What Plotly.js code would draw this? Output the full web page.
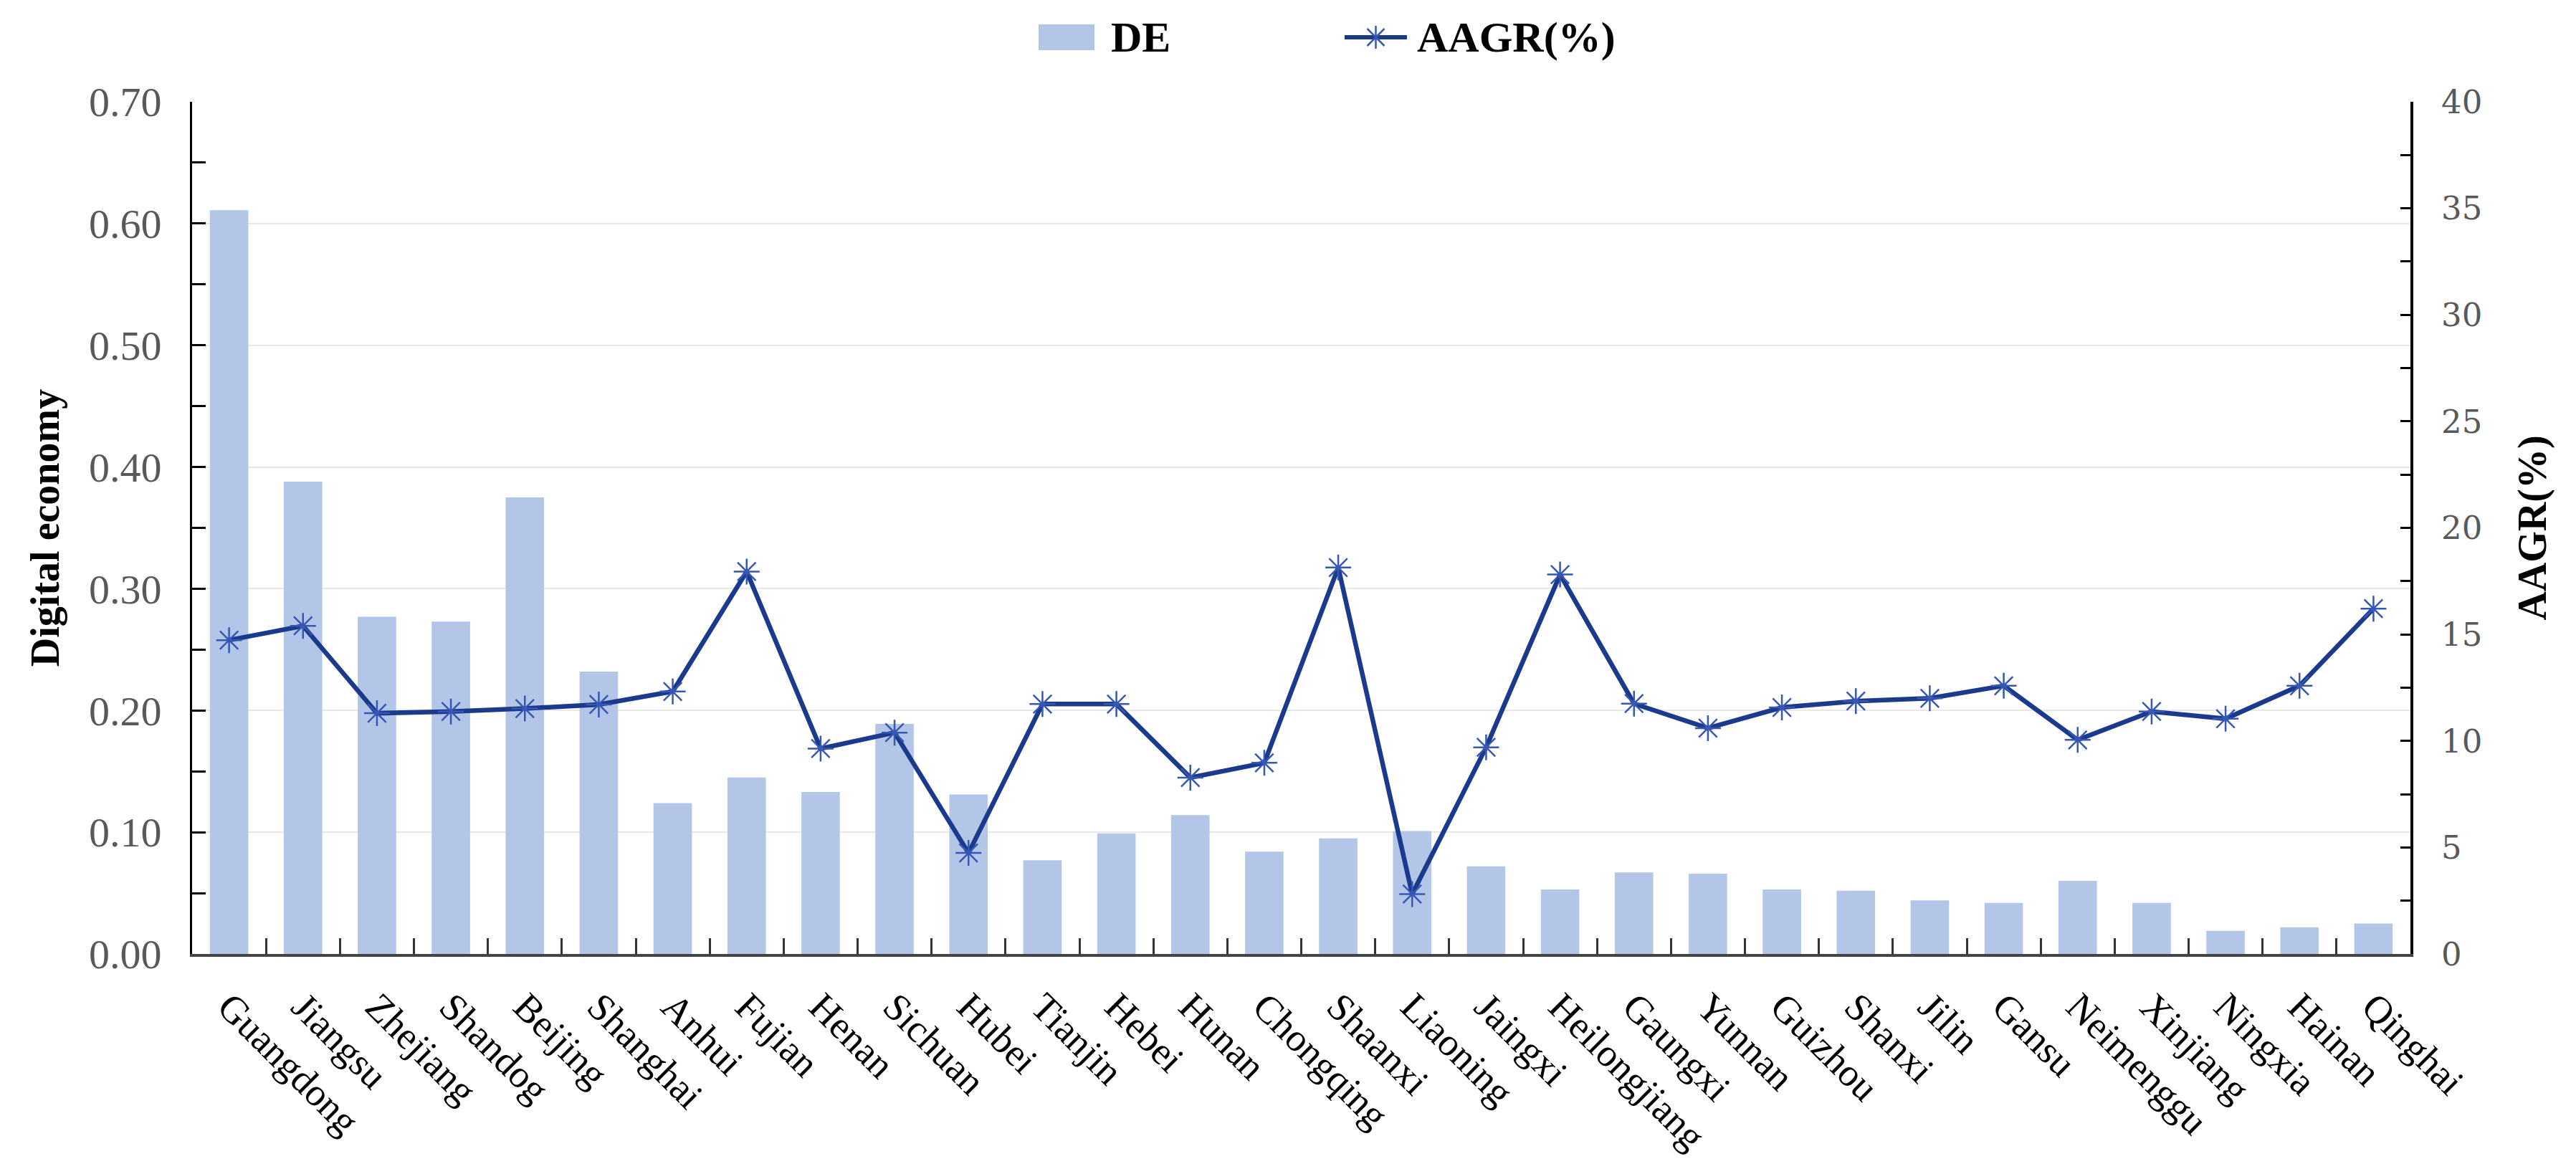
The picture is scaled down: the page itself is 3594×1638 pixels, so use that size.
<!DOCTYPE html>
<html>
<head>
<meta charset="utf-8">
<script src="https://cdn.plot.ly/plotly-3.0.1.min.js"></script>
<style>
  html, body { margin: 0; padding: 0; background: #fff; }
  #chart { width: 3594px; height: 1638px; }
</style>
</head>
<body>
<div id="chart"></div>
<script>
// provinces, in the order of the chart
const provinces = [
    'Guangdong', 'Jiangsu', 'Zhejiang', 'Shandog', 'Beijing', 'Shanghai',
    'Anhui', 'Fujian', 'Henan', 'Sichuan', 'Hubei', 'Tianjin', 'Hebei',
    'Hunan', 'Chongqing', 'Shaanxi', 'Liaoning', 'Jaingxi', 'Heilongjiang',
    'Gaungxi', 'Yunnan', 'Guizhou', 'Shanxi', 'Jilin', 'Gansu', 'Neimenggu',
    'Xinjiang', 'Ningxia', 'Hainan', 'Qinghai'
];

// digital economy index (left axis)
const de = [
    0.611, 0.388, 0.277, 0.273, 0.375, 0.232,
    0.124, 0.145, 0.133, 0.189, 0.131, 0.077, 0.099,
    0.114, 0.084, 0.095, 0.101, 0.072, 0.053,
    0.067, 0.066, 0.053, 0.052, 0.044, 0.042, 0.060,
    0.042, 0.019, 0.022, 0.025
];

// average annual growth rate, % (right axis)
const aagr = [
    14.73, 15.40, 11.30, 11.38, 11.52, 11.71,
    12.32, 17.95, 9.64, 10.39, 4.74, 11.73, 11.73,
    8.28, 8.97, 18.14, 2.81, 9.70, 17.81,
    11.75, 10.60, 11.57, 11.87, 12.00, 12.59, 10.05,
    11.38, 11.04, 12.59, 16.21
];

const leftTicks = [0, 0.1, 0.2, 0.3, 0.4, 0.5, 0.6, 0.7];
const rightTicks = [0, 5, 10, 15, 20, 25, 30, 35, 40];

const SERIF = 'Liberation Serif, Times New Roman, serif';
const BAR_COLOR = '#B4C6E7';
const LINE_COLOR = '#1B3A8C';
const MARK_COLOR = '#3657B3';

// plot box in pixels
const W = 3594, H = 1638;
const L = 268, R = 231, T = 142, B = 307;
const pw = W - L - R, ph = H - T - B;
const px = x => (x - L) / pw;
const py = y => (H - B - y) / ph;

const barTrace = {
    type: 'bar',
    x: provinces,
    y: de,
    name: 'DE',
    marker: { color: BAR_COLOR },
    hoverinfo: 'x+y',
};

const lineTrace = {
    type: 'scatter',
    mode: 'lines+markers',
    x: provinces,
    y: aagr,
    yaxis: 'y2',
    name: 'AAGR(%)',
    line: { color: LINE_COLOR, width: 6.5 },
    marker: {
        symbol: 'asterisk-open',
        size: 30,
        color: MARK_COLOR,
        line: { color: MARK_COLOR, width: 2.5 },
    },
};

// hand-drawn legend (Plotly's bar swatch can't be sized)
const mx = 1919.5, my = 52, ms = 16;
const shapes = [
    { type: 'rect', xref: 'paper', yref: 'paper',
      x0: px(1449), x1: px(1527), y0: py(70), y1: py(34),
      fillcolor: BAR_COLOR, line: { width: 0 } },
    { type: 'line', xref: 'paper', yref: 'paper',
      x0: px(1876), x1: px(1963), y0: py(my), y1: py(my),
      line: { color: LINE_COLOR, width: 6 } },
    { type: 'line', xref: 'paper', yref: 'paper',
      x0: px(mx), x1: px(mx), y0: py(my - ms), y1: py(my + ms),
      line: { color: MARK_COLOR, width: 2.5 } },
    { type: 'line', xref: 'paper', yref: 'paper',
      x0: px(mx - 12), x1: px(mx + 12), y0: py(my - 12), y1: py(my + 12),
      line: { color: MARK_COLOR, width: 2.5 } },
    { type: 'line', xref: 'paper', yref: 'paper',
      x0: px(mx - 12), x1: px(mx + 12), y0: py(my + 12), y1: py(my - 12),
      line: { color: MARK_COLOR, width: 2.5 } },
];

const annotations = [
    { xref: 'paper', yref: 'paper', x: px(1548), y: py(my),
      xanchor: 'left', yanchor: 'middle', showarrow: false, text: 'DE',
      font: { family: SERIF, size: 60, color: '#000', weight: 'bold' } },
    { xref: 'paper', yref: 'paper', x: px(1975), y: py(my),
      xanchor: 'left', yanchor: 'middle', showarrow: false, text: 'AAGR(%)',
      font: { family: SERIF, size: 60, color: '#000', weight: 'bold' } },
];

const layout = {
    width: W,
    height: H,
    margin: { l: L, r: R, t: T, b: B, pad: 0 },
    paper_bgcolor: '#fff',
    plot_bgcolor: '#fff',
    showlegend: false,
    bargap: 0.48,
    shapes: shapes,
    annotations: annotations,
    xaxis: {
        type: 'category',
        range: [-0.5, provinces.length - 0.5],
        tickangle: 45,
        tickson: 'boundaries',
        ticks: 'inside',
        ticklen: 22,
        tickwidth: 3,
        tickcolor: '#333',
        ticklabelstandoff: 16,
        tickfont: { family: SERIF, size: 54, color: '#000' },
        showline: true,
        linecolor: '#444',
        linewidth: 4,
        showgrid: false,
        zeroline: false,
    },
    yaxis: {
        range: [0, 0.7],
        tickvals: leftTicks,
        tickformat: '.2f',
        ticks: 'inside',
        ticklen: 19,
        tickwidth: 3,
        tickcolor: '#000',
        minor: { dtick: 0.05, ticks: 'inside', ticklen: 19, tickwidth: 3, tickcolor: '#000', showgrid: false },
        ticklabelstandoff: 28,
        tickfont: { family: SERIF, size: 58, color: '#595959' },
        showline: true,
        linecolor: '#000',
        linewidth: 3,
        showgrid: true,
        gridcolor: '#E8E8E8',
        gridwidth: 2,
        zeroline: false,
        title: {
            text: 'Digital economy',
            standoff: 24,
            font: { family: SERIF, size: 56, color: '#000', weight: 'bold' },
        },
    },
    yaxis2: {
        overlaying: 'y',
        side: 'right',
        range: [0, 40],
        tickvals: rightTicks,
        ticks: 'inside',
        ticklen: 14,
        tickwidth: 3,
        tickcolor: '#000',
        minor: { dtick: 2.5, ticks: 'inside', ticklen: 14, tickwidth: 3, tickcolor: '#000', showgrid: false },
        ticklabelstandoff: 30,
        tickfont: { family: 'DejaVu Serif, serif', size: 45, color: '#595959' },
        showline: true,
        linecolor: '#000',
        linewidth: 4,
        showgrid: false,
        zeroline: false,
        title: {
            text: 'AAGR(%)',
            standoff: 52,
            font: { family: SERIF, size: 56, color: '#000', weight: 'bold' },
        },
    },
};

Plotly.newPlot('chart', [barTrace, lineTrace], layout, { displayModeBar: false, staticPlot: true });
</script>
</body>
</html>
